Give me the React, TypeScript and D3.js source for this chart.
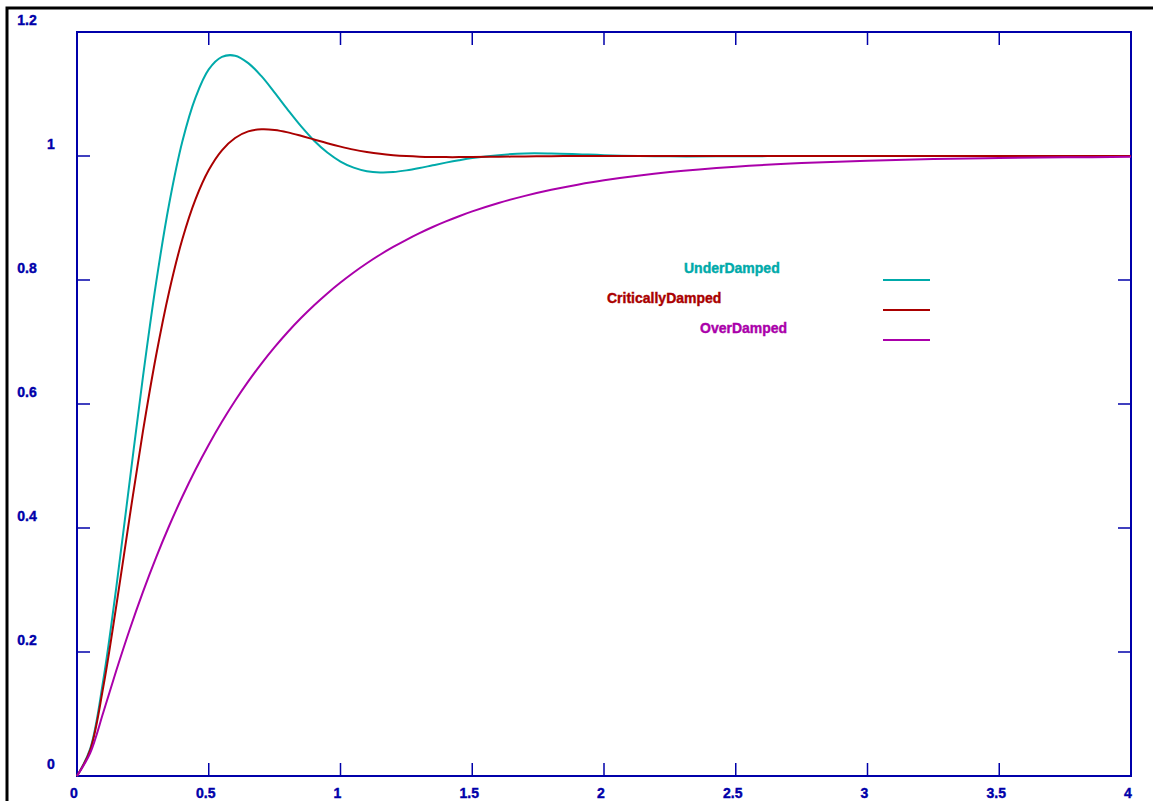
import React, { useEffect, useRef } from 'react'
import * as d3 from 'd3'

const width = 1153
const height = 801
const margin = { top: 32, right: 22, bottom: 25, left: 77 }
const fontFamily = '"Liberation Sans", Arial, sans-serif'
const axisColor = '#0000aa'
const tickLength = 13

// time axis samples (seconds)
const times = [
  0, 0.05, 0.1, 0.15, 0.2, 0.25, 0.3, 0.35, 0.4, 0.45, 0.5, 0.55, 0.6, 0.65, 0.7, 0.75,
  0.8, 0.85, 0.9, 0.95, 1.0, 1.05, 1.1, 1.15, 1.2, 1.25, 1.3, 1.35, 1.4, 1.45, 1.5,
  1.6, 1.7, 1.8, 1.9, 2.0, 2.25, 2.5, 2.75, 3.0, 3.25, 3.5, 3.75, 4.0,
]

const underDamped = [
  0, 0.0438, 0.1553, 0.3072, 0.4757, 0.643, 0.795, 0.9233, 1.0237, 1.0946, 1.1397, 1.1599,
  1.1618, 1.1498, 1.1287, 1.1022, 1.0745, 1.0481, 1.0247, 1.0056, 0.9911, 0.9812, 0.9755,
  0.9735, 0.9741, 0.9768, 0.9806, 0.985, 0.9893, 0.9932, 0.9966,
  1.0014, 1.0042, 1.0041, 1.0029, 1.0014, 0.9994, 0.9996, 1.0, 1.0, 1.0, 1.0, 1.0, 1.0,
]

const criticallyDamped = [
  0, 0.042, 0.1441, 0.2767, 0.4185, 0.5553, 0.6779, 0.782, 0.866, 0.9304, 0.9773, 1.0092,
  1.0291, 1.0397, 1.0431, 1.042, 1.0381, 1.0326, 1.0265, 1.0205, 1.0151, 1.0103, 1.0065,
  1.0035, 1.0014, 0.9999, 0.9989, 0.9984, 0.9982, 0.9982, 0.9983,
  0.9988, 0.9993, 0.9997, 0.9999, 1.0, 1.0, 1.0, 1.0, 1.0, 1.0, 1.0, 1.0, 1.0,
]

const overDamped = [
  0, 0.037, 0.1028, 0.1713, 0.2363, 0.2966, 0.3523, 0.4036, 0.4508, 0.4943, 0.5343, 0.5712,
  0.6052, 0.6364, 0.6652, 0.6917, 0.7161, 0.7386, 0.7593, 0.7784, 0.7959, 0.8121, 0.827,
  0.8407, 0.8533, 0.8649, 0.8756, 0.8855, 0.8945, 0.9029, 0.9106,
  0.9242, 0.9357, 0.9455, 0.9538, 0.9608, 0.9741, 0.9828, 0.9886, 0.9925, 0.995, 0.9967,
  0.9978, 0.9986,
]

const seriesNames = ['UnderDamped', 'CriticallyDamped', 'OverDamped']
const seriesColors = ['#00aaaa', '#aa0000', '#aa00aa']
const seriesValues = [underDamped, criticallyDamped, overDamped]

const xTicks = [0, 0.5, 1, 1.5, 2, 2.5, 3, 3.5, 4]
const xTickLabels = ['0', '0.5', '1', '1.5', '2', '2.5', '3', '3.5', '4']
const yTicks = [0, 0.2, 0.4, 0.6, 0.8, 1, 1.2]
const yTickLabels = ['0', '0.2', '0.4', '0.6', '0.8', '1', '1.2']

// legend label left edges (the labels are not aligned in the original)
const legendLabelX = [684, 607, 700]

function Chart() {
  const ref = useRef<SVGSVGElement | null>(null)

  useEffect(() => {
    const svg = d3.select(ref.current)
    svg.selectAll('*').remove()

    const x = d3.scaleLinear().domain([0, 4]).range([margin.left, width - margin.right])
    const y = d3.scaleLinear().domain([0, 1.2]).range([height - margin.bottom, margin.top])

    // outer black frame (top + left only visible)
    svg.append('path')
      .attr('d', `M7,${height} L7,8 L${width},8`)
      .attr('fill', 'none')
      .attr('stroke', '#000')
      .attr('stroke-width', 3)

    const g = svg.append('g')

    // ticks
    xTicks.forEach((t) => {
      g.append('line')
        .attr('x1', x(t)).attr('x2', x(t))
        .attr('y1', y(0)).attr('y2', y(0) - tickLength)
        .attr('stroke', axisColor).attr('stroke-width', 1.5)
      g.append('line')
        .attr('x1', x(t)).attr('x2', x(t))
        .attr('y1', y(1.2)).attr('y2', y(1.2) + tickLength)
        .attr('stroke', axisColor).attr('stroke-width', 1.5)
    })
    yTicks.forEach((v) => {
      g.append('line')
        .attr('x1', x(0)).attr('x2', x(0) + tickLength)
        .attr('y1', y(v)).attr('y2', y(v))
        .attr('stroke', axisColor).attr('stroke-width', 1.5)
      g.append('line')
        .attr('x1', x(4)).attr('x2', x(4) - tickLength)
        .attr('y1', y(v)).attr('y2', y(v))
        .attr('stroke', axisColor).attr('stroke-width', 1.5)
    })

    // plot frame
    g.append('rect')
      .attr('x', x(0))
      .attr('y', y(1.2))
      .attr('width', x(4) - x(0))
      .attr('height', y(0) - y(1.2))
      .attr('fill', 'none')
      .attr('stroke', axisColor)
      .attr('stroke-width', 2)

    // tick labels
    g.selectAll('text.xLabel')
      .data(xTicks)
      .enter().append('text')
      .attr('class', 'xLabel')
      .attr('x', (d) => x(d) - 3)
      .attr('y', height - 8)
      .attr('text-anchor', 'middle')
      .attr('dominant-baseline', 'central')
      .attr('fill', axisColor)
      .attr('stroke', axisColor)
      .attr('stroke-width', 0.4)
      .style('font-family', fontFamily)
      .style('font-weight', 'bold')
      .style('font-size', '14px')
      .text((_, i) => xTickLabels[i])

    g.selectAll('text.yLabel')
      .data(yTicks)
      .enter().append('text')
      .attr('class', 'yLabel')
      .attr('x', (_, i) => (yTickLabels[i].length > 1 ? 27 : 51))
      .attr('y', (d) => y(d) - 12)
      .attr('text-anchor', 'middle')
      .attr('dominant-baseline', 'central')
      .attr('fill', axisColor)
      .attr('stroke', axisColor)
      .attr('stroke-width', 0.4)
      .style('font-family', fontFamily)
      .style('font-weight', 'bold')
      .style('font-size', '14px')
      .text((_, i) => yTickLabels[i])

    // curves
    const line = d3.line<number>()
      .x((_, i) => x(times[i]))
      .y((v) => y(v))
      .curve(d3.curveCatmullRom.alpha(0.5))

    seriesValues.forEach((values, i) => {
      g.append('path')
        .datum(values)
        .attr('fill', 'none')
        .attr('stroke', seriesColors[i])
        .attr('stroke-width', 2)
        .attr('d', line)
    })

    // legend
    seriesNames.forEach((name, i) => {
      const rowY = 268 + i * 30
      g.append('text')
        .attr('x', legendLabelX[i])
        .attr('y', rowY)
        .attr('dominant-baseline', 'central')
        .attr('fill', seriesColors[i])
        .attr('stroke', seriesColors[i])
        .attr('stroke-width', 0.4)
        .style('font-family', fontFamily)
        .style('font-weight', 'bold')
        .style('font-size', '14px')
        .text(name)
      g.append('line')
        .attr('x1', 883).attr('x2', 930)
        .attr('y1', rowY + 12).attr('y2', rowY + 12)
        .attr('stroke', seriesColors[i])
        .attr('stroke-width', 2)
    })
  }, [])

  return (
    <svg
      ref={ref}
      width={width}
      height={height}
      style={{ position: 'absolute', left: 0, top: 0, background: '#fff' }}
    />
  )
}

export default function App() {
  return <Chart />
}
